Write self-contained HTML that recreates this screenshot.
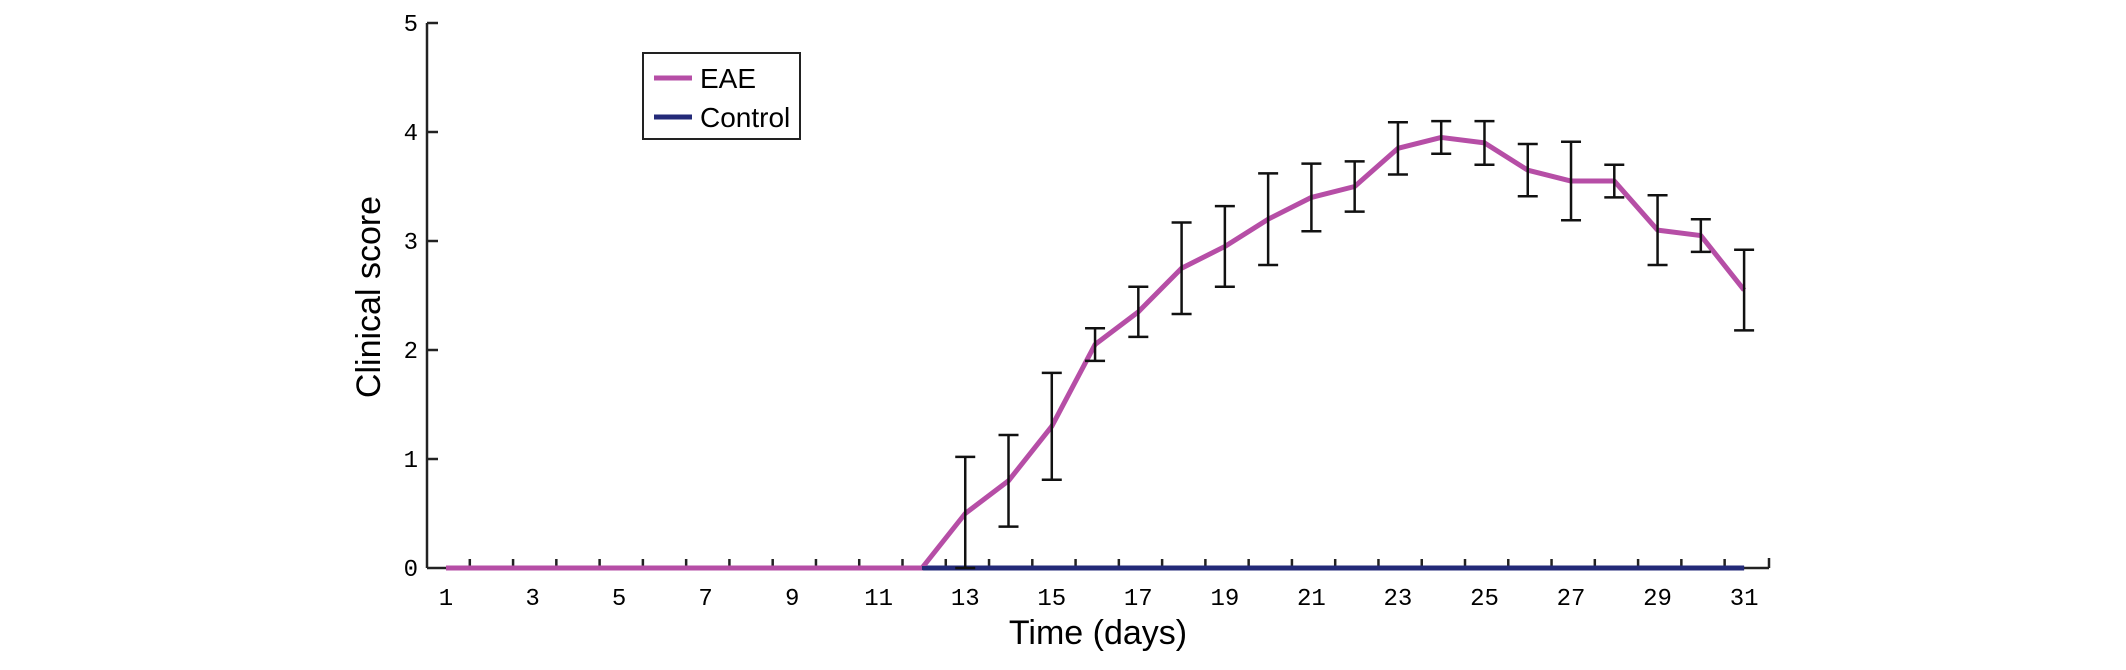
<!DOCTYPE html>
<html><head><meta charset="utf-8">
<style>
html,body{margin:0;padding:0;background:#fff;}
svg{display:block;}
</style></head>
<body>
<svg id="chart" width="2126" height="670" viewBox="0 0 2126 670" xmlns="http://www.w3.org/2000/svg">
<g id="axes"></g>
<g id="series"></g>
<g id="legend">
  <rect x="643" y="53" width="157" height="86" fill="#fff" stroke="#222" stroke-width="2"/>
  <line x1="654" y1="78" x2="692" y2="78" stroke="#b64ea6" stroke-width="5"/>
  <text x="700" y="88" font-family="Liberation Sans, sans-serif" font-size="28">EAE</text>
  <line x1="654" y1="117" x2="692" y2="117" stroke="#232a78" stroke-width="5"/>
  <text x="700" y="127" font-family="Liberation Sans, sans-serif" font-size="28">Control</text>
</g>
<text x="1098" y="644" text-anchor="middle" font-family="Liberation Sans, sans-serif" font-size="34">Time (days)</text>
<text transform="translate(380,297) rotate(-90)" text-anchor="middle" font-family="Liberation Sans, sans-serif" font-size="34">Clinical score</text>
</svg>
<script>
const days = [1,2,3,4,5,6,7,8,9,10,11,12,13,14,15,16,17,18,19,20,21,22,23,24,25,26,27,28,29,30,31];
const eaeMean = [0,0,0,0,0,0,0,0,0,0,0,0,0.5,0.8,1.3,2.05,2.35,2.75,2.95,3.2,3.4,3.5,3.85,3.95,3.9,3.65,3.55,3.55,3.1,3.05,2.55];
const eaeErr = [0,0,0,0,0,0,0,0,0,0,0,0,0.52,0.42,0.49,0.15,0.23,0.42,0.37,0.42,0.31,0.23,0.24,0.15,0.2,0.24,0.36,0.15,0.32,0.15,0.37];
const controlMean = [0,0,0,0,0,0,0,0,0,0,0,0,0,0,0,0,0,0,0,0,0,0,0,0,0,0,0,0,0,0,0];
const xTickLabels = [1,3,5,7,9,11,13,15,17,19,21,23,25,27,29,31];
const yTickLabels = [0,1,2,3,4,5];

const NS = "http://www.w3.org/2000/svg";
const X0 = 446, DX = 43.27, Y0 = 568, DY = 109;
function xs(d){ return X0 + (d-1)*DX; }
function ys(v){ return Y0 - v*DY; }
function mk(tag, attrs, parent){
  const e = document.createElementNS(NS, tag);
  for (const k in attrs) e.setAttribute(k, attrs[k]);
  parent.appendChild(e); return e;
}
const axes = document.getElementById('axes');
const series = document.getElementById('series');

let yAxis = mk('line', {x1:427,y1:ys(5),x2:427,y2:Y0,stroke:'#222','stroke-width':2.5}, axes);


let xAxis = mk('line', {x1:427,y1:Y0,x2:1769,y2:Y0,stroke:'#222','stroke-width':2.5}, axes);


let endTick = mk('line', {x1:1769,y1:Y0,x2:1769,y2:Y0-10,stroke:'#222','stroke-width':2.5}, axes);



yTickLabels.forEach(v => {
  const y = ys(v);
  if (v > 0) {
    const t = mk('line', {x1:427,y1:y,x2:438,y2:y,stroke:'#222','stroke-width':2.5}, axes);
    
    
  }
  const l = mk('text', {x:418,y:y+8,'text-anchor':'end','font-family':'Liberation Mono, monospace','font-size':24}, axes);
  
  
  l.textContent = v;
});
for (let d = 1; d < 31; d++) {
  const x = xs(d + 0.55);
  const t = mk('line', {x1:x,y1:Y0,x2:x,y2:Y0-9,stroke:'#222','stroke-width':2.5}, axes);
  
  
}
xTickLabels.forEach(d => {
  const l = mk('text', {x:xs(d),y:Y0+37,'text-anchor':'middle','font-family':'Liberation Mono, monospace','font-size':24}, axes);
  
  
  l.textContent = d;
});

const cpts = days.map((d,i) => xs(d)+','+ys(controlMean[i])).join(' ');
const cl = mk('polyline', {points:cpts,fill:'none',stroke:'#232a78','stroke-width':5}, series);



const epts = days.map((d,i) => xs(d)+','+ys(eaeMean[i])).join(' ');
const el = mk('polyline', {points:epts,fill:'none',stroke:'#b64ea6','stroke-width':5,'stroke-linejoin':'round'}, series);


const onset = eaeMean.findIndex(v => v > 0) - 1;
const cpts2 = days.slice(onset).map((d,i) => xs(d)+','+ys(controlMean[i+onset])).join(' ');
const cl2 = mk('polyline', {points:cpts2,fill:'none',stroke:'#232a78','stroke-width':4}, series);



days.forEach((d,i) => {
  if (eaeErr[i] <= 0) return;
  const x = xs(d);
  const top = ys(eaeMean[i] + eaeErr[i]);
  const bot = ys(Math.max(0, eaeMean[i] - eaeErr[i]));
  const g = mk('g', {stroke:'#111','stroke-width':2.5}, series);
  
  
  mk('line', {x1:x,y1:top,x2:x,y2:bot}, g);
  mk('line', {x1:x-10,y1:top,x2:x+10,y2:top}, g);
  mk('line', {x1:x-10,y1:bot,x2:x+10,y2:bot}, g);
});
</script>
</body></html>
